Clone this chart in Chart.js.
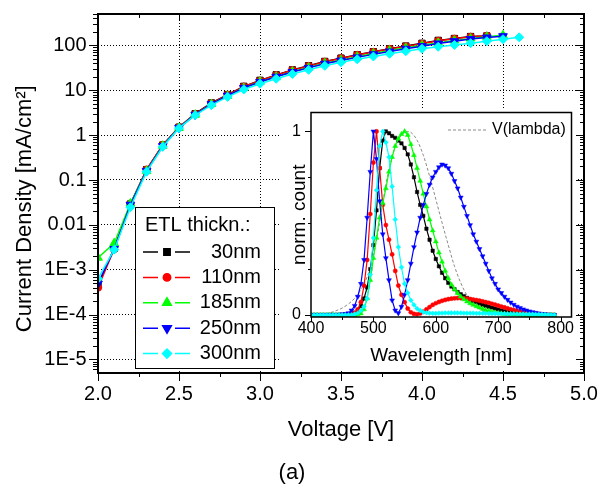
<!DOCTYPE html>
<html>
<head>
<meta charset="utf-8">
<script src="https://cdn.jsdelivr.net/npm/chart.js@4.4.1/dist/chart.umd.min.js"></script>
<style>
  html, body { margin: 0; padding: 0; background: #fff; }
  #wrap { position: relative; width: 598px; height: 484px; }
  #jvChart { position: absolute; left: 0; top: 0; }
  #specChart { position: absolute; left: 281px; top: 108px; background: #fff; }
</style>
</head>
<body>
<div id="wrap">
  <canvas id="jvChart" width="598" height="484"></canvas>
  <canvas id="specChart" width="295" height="262"></canvas>
</div>
<script>
const FONT = "'Liberation Sans', Arial, sans-serif";

// J-V curves, 0.1 V steps
const voltage    = [2.0, 2.1, 2.2, 2.3, 2.4, 2.5, 2.6, 2.7, 2.8, 2.9, 3.0, 3.1, 3.2, 3.3, 3.4, 3.5, 3.6, 3.7, 3.8, 3.9, 4.0, 4.1, 4.2, 4.3, 4.4, 4.5, 4.6];
const current30  = [4.5e-4, 3e-3, 0.029, 0.17, 0.6, 1.5, 3.0, 5.2, 8.0, 12.2, 16.6, 22, 28.4, 35.2, 43.8, 51.9, 62, 72, 84, 96.5, 111, 129, 142, 157, 162];
const current110 = [4e-4, 2.9e-3, 0.029, 0.17, 0.6, 1.5, 2.95, 5.1, 7.9, 12, 16.3, 21.5, 28, 34.5, 43, 51, 61, 71, 83, 95, 109, 126, 140, 155, 163];
const current185 = [1.85e-3, 3.9e-3, 0.03, 0.16, 0.58, 1.45, 2.85, 4.9, 7.5, 11.2, 15.5, 20, 26, 32, 40, 47, 56, 66, 77, 88, 100, 114, 128, 142, 155, 168];
const current250 = [4.9e-4, 2.9e-3, 0.028, 0.16, 0.57, 1.45, 2.85, 4.9, 7.6, 11.3, 15.3, 20, 25.5, 31.5, 39, 46, 54, 63, 73, 84, 96, 110, 124, 138, 150, 160];
const current300 = [6.3e-4, 2.8e-3, 0.0247, 0.153, 0.55, 1.43, 2.78, 4.64, 7.1, 10.4, 14, 18, 23, 28.5, 35, 42, 49, 56.5, 65, 74, 84, 93, 102, 112, 124, 137, 151];

const voltageTicks = [2.0, 2.5, 3.0, 3.5, 4.0, 4.5, 5.0];
const densityTicks = [1e-5, 1e-4, 1e-3, 0.01, 0.1, 1, 10, 100];

// EL spectra, 5 nm steps
const wavelength = [400, 405, 410, 415, 420, 425, 430, 435, 440, 445,
                    450, 455, 460, 465, 470, 475, 480, 485, 490, 495,
                    500, 505, 510, 515, 520, 525, 530, 535, 540, 545,
                    550, 555, 560, 565, 570, 575, 580, 585, 590, 595,
                    600, 605, 610, 615, 620, 625, 630, 635, 640, 645,
                    650, 655, 660, 665, 670, 675, 680, 685, 690, 695,
                    700, 705, 710, 715, 720, 725, 730, 735, 740, 745,
                    750, 755, 760, 765, 770, 775, 780, 785, 790];
const spec30  = [0, 0, 0, 0, 0, 0, 0, 0, 0, 0,
                 0, 0.002, 0.004, 0.007, 0.012, 0.025, 0.05, 0.09, 0.15, 0.25,
                 0.38, 0.57, 0.8, 0.95, 1.0, 0.99, 0.975, 0.965, 0.95, 0.935,
                 0.91, 0.875, 0.82, 0.75, 0.67, 0.6, 0.54, 0.47, 0.41, 0.35,
                 0.305, 0.265, 0.23, 0.2, 0.175, 0.155, 0.14, 0.125, 0.113, 0.103,
                 0.093, 0.084, 0.076, 0.07, 0.062, 0.056, 0.05, 0.045, 0.04, 0.035,
                 0.03, 0.025, 0.02, 0.017, 0.014, 0.011, 0.009, 0.007, 0.005, 0.004,
                 0.003, 0.002, 0.002, 0.001, 0.001, 0, 0, 0, 0];
const spec110 = [0, 0, 0, 0, 0, 0, 0, 0, 0, 0,
                 0, 0.002, 0.004, 0.006, 0.012, 0.03, 0.07, 0.16, 0.3, 0.55,
                 0.83, 1.0, 0.8, 0.6, 0.49, 0.41, 0.33, 0.24, 0.16, 0.11,
                 0.07, 0.035, 0.015, 0.006, 0.004, 0.008, 0.018, 0.03, 0.043, 0.055,
                 0.064, 0.071, 0.077, 0.082, 0.086, 0.089, 0.091, 0.092, 0.092, 0.091,
                 0.089, 0.087, 0.084, 0.081, 0.078, 0.074, 0.07, 0.066, 0.061, 0.056,
                 0.051, 0.046, 0.041, 0.036, 0.031, 0.027, 0.023, 0.019, 0.016, 0.013,
                 0.011, 0.009, 0.007, 0.005, 0.004, 0.003, 0.002, 0.001, 0];
const spec185 = [0, 0, 0, 0, 0, 0, 0, 0, 0, 0,
                 0, 0, 0, 0, 0, 0.003, 0.008, 0.03, 0.09, 0.19,
                 0.31, 0.42, 0.53, 0.61, 0.69, 0.78, 0.86, 0.92, 0.96, 0.985,
                 1.0, 0.98, 0.93, 0.87, 0.8, 0.73, 0.66, 0.59, 0.52, 0.46,
                 0.4, 0.34, 0.29, 0.24, 0.2, 0.165, 0.14, 0.118, 0.1, 0.085,
                 0.073, 0.063, 0.055, 0.047, 0.04, 0.033, 0.027, 0.022, 0.017, 0.013,
                 0.01, 0.008, 0.006, 0.004, 0.003, 0.002, 0.002, 0.001, 0.001, 0,
                 0, 0, 0, 0, 0, 0, 0, 0, 0];
const spec250 = [0, 0, 0, 0, 0, 0, 0, 0, 0, 0.002,
                 0.004, 0.006, 0.01, 0.025, 0.05, 0.1, 0.17, 0.3, 0.53, 0.78,
                 1.0, 0.85, 0.62, 0.44, 0.31, 0.19, 0.08, 0.025, 0.01, 0.045,
                 0.11, 0.19, 0.28, 0.37, 0.45, 0.53, 0.6, 0.66, 0.71, 0.75,
                 0.78, 0.805, 0.82, 0.815, 0.8, 0.77, 0.73, 0.69, 0.64, 0.59,
                 0.54, 0.49, 0.44, 0.4, 0.36, 0.32, 0.28, 0.24, 0.2, 0.17,
                 0.14, 0.12, 0.1, 0.083, 0.068, 0.056, 0.046, 0.038, 0.031, 0.025,
                 0.02, 0.016, 0.012, 0.009, 0.006, 0.004, 0.002, 0.001, 0];
const spec300 = [0, 0, 0, 0, 0, 0, 0, 0, 0, 0,
                 0, 0, 0, 0, 0.005, 0.01, 0.025, 0.045, 0.09, 0.22,
                 0.42, 0.68, 0.92, 1.0, 0.94, 0.86, 0.7, 0.52, 0.37, 0.26,
                 0.17, 0.12, 0.08, 0.055, 0.035, 0.024, 0.016, 0.012, 0.01, 0.009,
                 0.009, 0.01, 0.01, 0.011, 0.011, 0.011, 0.011, 0.011, 0.011, 0.01,
                 0.01, 0.01, 0.01, 0.009, 0.009, 0.009, 0.009, 0.008, 0.008, 0.008,
                 0.007, 0.007, 0.007, 0.006, 0.006, 0.006, 0.005, 0.005, 0.005, 0.004,
                 0.004, 0.004, 0.003, 0.003, 0.003, 0.002, 0.002, 0.001, 0];

// photopic eye sensitivity
const vlWavelength = [400, 410, 420, 430, 440, 450, 460, 470, 480, 490, 500, 510, 520, 530, 540, 550, 555, 560, 570, 580,
                      590, 600, 610, 620, 630, 640, 650, 660, 670, 680, 690, 700, 710, 720, 730, 740, 750, 760, 770, 780];
const vlValue = [0.0004, 0.0012, 0.004, 0.0116, 0.023, 0.038, 0.06, 0.091, 0.139, 0.208, 0.323, 0.503, 0.71, 0.862, 0.954, 0.995, 1.0, 0.995, 0.952, 0.87,
                 0.757, 0.631, 0.503, 0.381, 0.265, 0.175, 0.107, 0.061, 0.032, 0.017, 0.0082, 0.0041, 0.0021, 0.001, 0.0005, 0.00025, 0.00012, 0.00006, 0.00003, 0.000015];

const wavelengthTicks = [400, 500, 600, 700, 800];
const countTicks = [0, 1];

const thickness = ['30nm', '110nm', '185nm', '250nm', '300nm'];
const colors    = ['#000000', '#ff0000', '#00ff00', '#0000ff', '#00ffff'];
const markers   = ['rect', 'circle', 'triangle', 'triangle', 'rectRot'];
const rotations = [0, 0, 0, 180, 0];

Chart.defaults.font.family = FONT;
Chart.defaults.color = '#000';

const xy = (xs, ys) => ys.map((y, i) => ({ x: xs[i], y }));

// scale boxes get fixed sizes so the plot area lands where it should
const fixSize = (w, h) => s => {
  if (w !== null) s.width = w;
  if (h !== null) s.height = h;
  s.paddingLeft = s.paddingRight = s.paddingTop = s.paddingBottom = 0;
};

const jvFrame = {
  id: 'jvFrame',
  afterDatasetsDraw(chart) {
    const { ctx, chartArea: a, scales: { x, y } } = chart;
    ctx.save();
    ctx.strokeStyle = '#000';
    ctx.lineWidth = 1;
    ctx.beginPath();
    for (let k = 0; k <= 12; k++) {
      const v = 2 + k * 0.25;
      const px = Math.round(x.getPixelForValue(v)) + 0.5;
      const major = k % 2 === 0;
      ctx.moveTo(px, a.bottom); ctx.lineTo(px, a.bottom + (major ? 8 : 4));
      ctx.moveTo(px, a.top);    ctx.lineTo(px, a.top + (major ? 6 : 4));
    }
    for (let e = -6; e <= 2; e++) {
      for (let m = 1; m <= 9; m++) {
        const v = m * Math.pow(10, e);
        if (v < y.min || v > y.max) continue;
        const py = Math.round(y.getPixelForValue(v)) + 0.5;
        ctx.moveTo(a.left, py);  ctx.lineTo(a.left - (m === 1 ? 9 : 5), py);
        ctx.moveTo(a.right, py); ctx.lineTo(a.right - (m === 1 ? 8 : 4), py);
      }
    }
    ctx.stroke();
    ctx.lineWidth = 2;
    ctx.strokeRect(a.left, a.top, a.right - a.left, a.bottom - a.top);
    ctx.restore();
  }
};

const jvLegend = {
  id: 'jvLegend',
  afterDraw(chart, args, opts) {
    const { ctx } = chart;
    const { left, top, width, height } = opts;
    ctx.save();
    ctx.fillStyle = '#fff';
    ctx.fillRect(left, top, width, height);
    ctx.strokeStyle = '#000';
    ctx.lineWidth = 1;
    ctx.strokeRect(left + 0.5, top + 0.5, width, height);
    ctx.font = '20px ' + FONT;
    ctx.textBaseline = 'middle';
    ctx.fillStyle = '#000';
    ctx.textAlign = 'left';
    ctx.fillText(opts.title, left + 10, top + 18);
    chart.data.datasets.forEach((ds, i) => {
      const cy = top + 45 + i * 25.4;
      const cx = left + 32;
      ctx.strokeStyle = ds.borderColor;
      ctx.lineWidth = ds.borderWidth;
      ctx.beginPath();
      ctx.moveTo(cx - 24, cy); ctx.lineTo(cx - 9, cy);
      ctx.moveTo(cx + 8, cy);  ctx.lineTo(cx + 23, cy);
      ctx.stroke();
      ctx.fillStyle = ds.pointBackgroundColor;
      ctx.strokeStyle = ds.pointBackgroundColor;
      Chart.helpers.drawPoint(ctx, { pointStyle: ds.pointStyle, rotation: ds.pointRotation, radius: ds.pointRadius, borderWidth: 1 }, cx, cy);
      ctx.fillStyle = '#000';
      ctx.textAlign = 'right';
      ctx.fillText(ds.label, left + width - 13, cy);
    });
    ctx.restore();
  }
};

const jvSeries = [current30, current110, current185, current250, current300];
const jvRadius = [4.5, 3.7, 5, 5, 4.5];

new Chart(document.getElementById('jvChart'), {
  type: 'line',
  data: {
    datasets: jvSeries.map((ys, i) => ({
      label: thickness[i],
      data: xy(voltage, ys),
      borderColor: colors[i],
      backgroundColor: colors[i],
      pointBackgroundColor: colors[i],
      pointBorderColor: colors[i],
      pointStyle: markers[i],
      pointRotation: rotations[i],
      pointRadius: jvRadius[i],
      pointBorderWidth: 1,
      borderWidth: 1.5,
      order: 4 - i,
    })),
  },
  options: {
    responsive: false,
    animation: false,
    events: [],
    layout: { padding: { top: 14, right: 14, left: 0, bottom: 0 } },
    plugins: {
      legend: { display: false },
      tooltip: { enabled: false },
      title: { display: true, text: '(a)', position: 'bottom', color: '#000', padding: 0, font: { size: 22, weight: 'normal', lineHeight: 1 } },
      jvLegend: { left: 135, top: 207, width: 139, height: 161, title: 'ETL thickn.:' },
    },
    scales: {
      x: {
        type: 'linear', min: 2, max: 5,
        afterBuildTicks: s => { s.ticks = voltageTicks.map(v => ({ value: v })); },
        afterFit: fixSize(null, 89),
        ticks: { callback: v => v.toFixed(1), font: { size: 20 }, color: '#000', padding: 9, maxRotation: 0, autoSkip: false },
        grid: { color: '#000', lineWidth: 1, drawTicks: false },
        border: { display: false, dash: [1, 2] },
        title: { display: true, text: 'Voltage [V]', color: '#000', font: { size: 22 }, padding: { top: 0, bottom: 18.8 } },
      },
      y: {
        type: 'logarithmic', min: 5e-6, max: 500,
        afterBuildTicks: s => { s.ticks = densityTicks.map(v => ({ value: v })); },
        afterFit: fixSize(98, null),
        ticks: { callback: v => v >= 0.01 ? String(v) : '1E' + Math.round(Math.log10(v)), font: { size: 20 }, color: '#000', padding: 11.5, autoSkip: false },
        grid: { color: '#000', lineWidth: 1, drawTicks: false },
        border: { display: false, dash: [1, 2] },
        title: { display: true, text: 'Current Density [mA/cm²]\u00a0\u00a0\u00a0\u00a0\u00a0', color: '#000', font: { size: 22 }, padding: { top: 11.5, bottom: 0 } },
      },
    },
  },
  plugins: [jvFrame, jvLegend],
});

// inset: normalised electroluminescence spectra
const specFrame = {
  id: 'specFrame',
  afterDatasetsDraw(chart) {
    const { ctx, chartArea: a, scales: { x, y } } = chart;
    ctx.save();
    ctx.strokeStyle = '#000';
    ctx.lineWidth = 1;
    ctx.beginPath();
    for (let k = 0; k <= 8; k++) {
      const px = Math.round(x.getPixelForValue(400 + k * 50)) + 0.5;
      ctx.moveTo(px, a.bottom); ctx.lineTo(px, a.bottom + (k % 2 === 0 ? 5 : 3));
    }
    for (let k = 0; k <= 4; k++) {
      const py = Math.round(y.getPixelForValue(k * 0.25)) + 0.5;
      ctx.moveTo(a.left, py); ctx.lineTo(a.left - (k % 4 === 0 ? 6 : 3), py);
    }
    ctx.stroke();
    ctx.lineWidth = 1.5;
    ctx.strokeRect(a.left, a.top, a.right - a.left, a.bottom - a.top);
    ctx.restore();
  },
  afterDraw(chart, args, opts) {
    const ds = chart.data.datasets.find(d => d.label === opts.label);
    const { ctx } = chart;
    ctx.save();
    ctx.strokeStyle = ds.borderColor;
    ctx.lineWidth = ds.borderWidth;
    ctx.setLineDash(ds.borderDash);
    ctx.beginPath();
    ctx.moveTo(opts.x, opts.y); ctx.lineTo(opts.x + 39, opts.y);
    ctx.stroke();
    ctx.setLineDash([]);
    ctx.fillStyle = '#000';
    ctx.font = '16px ' + FONT;
    ctx.textBaseline = 'middle';
    ctx.textAlign = 'left';
    ctx.fillText(ds.label, opts.x + 44, opts.y);
    ctx.restore();
  }
};

const specSeries = [spec30, spec110, spec185, spec250, spec300];
const specRadius = [2.4, 2.1, 2.8, 2.8, 2.4];

new Chart(document.getElementById('specChart'), {
  type: 'line',
  data: {
    datasets: [
      ...specSeries.map((ys, i) => ({
        label: thickness[i],
        data: xy(wavelength, ys),
        borderColor: colors[i],
        backgroundColor: colors[i],
        pointBackgroundColor: colors[i],
        pointBorderColor: colors[i],
        pointStyle: markers[i],
        pointRotation: rotations[i],
        pointRadius: specRadius[i],
        pointBorderWidth: 0.5,
        borderWidth: 1.2,
        order: 4 - i,
      })),
      {
        label: 'V(lambda)',
        data: xy(vlWavelength, vlValue),
        borderColor: '#8a8a8a',
        borderWidth: 1,
        borderDash: [3, 2],
        pointRadius: 0,
        cubicInterpolationMode: 'monotone',
        order: 5,
      },
    ],
  },
  options: {
    responsive: false,
    animation: false,
    events: [],
    layout: { padding: { top: 3, right: 3, left: 0, bottom: 0 } },
    plugins: {
      legend: { display: false },
      tooltip: { enabled: false },
      specFrame: { label: 'V(lambda)', x: 167, y: 22 },
    },
    scales: {
      x: {
        type: 'linear', min: 400, max: 817.5,
        afterBuildTicks: s => { s.ticks = wavelengthTicks.map(v => ({ value: v })); },
        afterFit: fixSize(null, 53),
        ticks: { font: { size: 16 }, color: '#000', padding: 2.4, maxRotation: 0, autoSkip: false },
        grid: { display: false, drawTicks: false },
        border: { display: false },
        title: { display: true, text: 'Wavelength [nm]', color: '#000', font: { size: 19 }, padding: { top: 0, bottom: 2.6 } },
      },
      y: {
        type: 'linear', min: -0.011, max: 1.103,
        afterBuildTicks: s => { s.ticks = countTicks.map(v => ({ value: v })); },
        afterFit: fixSize(30, null),
        ticks: { font: { size: 16 }, color: '#000', padding: 10, autoSkip: false },
        grid: { display: false, drawTicks: false },
        border: { display: false },
        title: { display: true, text: 'norm. count', color: '#000', font: { size: 19 }, padding: { top: 7.6, bottom: 0 } },
      },
    },
  },
  plugins: [specFrame],
});
</script>
</body>
</html>
